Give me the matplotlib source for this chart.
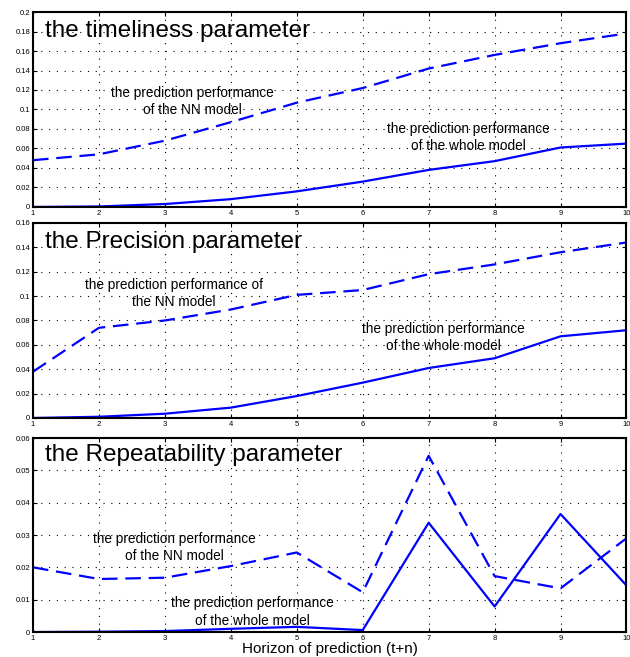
import matplotlib
matplotlib.use("Agg")
import matplotlib.pyplot as plt
from matplotlib.ticker import FuncFormatter

horizon = [1, 2, 3, 4, 5, 6, 7, 8, 9, 10]

# timeliness parameter
time_nn = [0.048, 0.054, 0.068, 0.087, 0.107, 0.122, 0.142, 0.156, 0.168, 0.178]
time_whole = [0.0, 0.0005, 0.003, 0.008, 0.016, 0.026, 0.038, 0.047, 0.061, 0.065]

# Precision parameter
prec_nn = [0.038, 0.074, 0.080, 0.089, 0.101, 0.105, 0.118, 0.126, 0.136, 0.144]
prec_whole = [0.0, 0.001, 0.0035, 0.0085, 0.018, 0.029, 0.041, 0.049, 0.067, 0.072]

# Repeatability parameter
rep_nn = [0.020, 0.0164, 0.0168, 0.0204, 0.0246, 0.0123, 0.0545, 0.0173, 0.0135, 0.029]
rep_whole = [0.0, 0.0001, 0.0003, 0.001, 0.0016, 0.0006, 0.0338, 0.0079, 0.0365, 0.0144]

titles = ["the timeliness parameter", "the Precision parameter",
          "the Repeatability parameter"]
nn_notes = ["the prediction performance\nof the NN model",
            "the prediction performance of\nthe NN model",
            "the prediction performance\nof the NN model"]
whole_note = "the prediction performance\nof the whole model"

plt.rcParams['font.family'] = ['Liberation Sans', 'DejaVu Sans']

fig = plt.figure(figsize=(6.3, 6.57), dpi=100)

boxes = [[0.0524, 0.685, 0.942, 0.2967],
         [0.0524, 0.3638, 0.942, 0.2968],
         [0.0524, 0.038, 0.942, 0.2953]]
ylims = [0.2, 0.16, 0.06]
ysteps = [0.02, 0.02, 0.01]
series = [(time_nn, time_whole), (prec_nn, prec_whole), (rep_nn, rep_whole)]
nn_pos = [(3.41, 0.108), (3.14, 0.102), (3.14, 0.0262)]
whole_pos = [(7.6, 0.071), (7.23, 0.066), (4.32, 0.0062)]
title_y = [0.905, 0.905, 0.91]

fmt = FuncFormatter(lambda v, p: ("%.2f" % v).rstrip('0').rstrip('.') if v != 0 else "0")

for i in range(3):
    ax = fig.add_axes(boxes[i])
    nn, whole = series[i]
    ax.plot(horizon, nn, color='#0000ff', lw=1.6, dashes=(7, 3.5))
    ax.plot(horizon, whole, color='#0000ff', lw=1.6)
    ax.set_xlim(1, 10)
    ax.set_ylim(0, ylims[i])
    n = int(round(ylims[i] / ysteps[i]))
    ax.set_yticks([k * ysteps[i] for k in range(n + 1)])
    ax.set_xticks(horizon)
    ax.yaxis.set_major_formatter(fmt)
    ax.tick_params(direction='in', top=True, right=True, labelsize=5.5,
                   length=3, width=0.8, pad=2)
    ax.grid(True, color='black', linestyle=(0, (1, 6)), linewidth=0.8)
    for s in ax.spines.values():
        s.set_linewidth(1.5)
    ax.text(0.02, title_y[i], titles[i], transform=ax.transAxes, fontsize=17.5,
            ha='left', va='center')
    ax.text(nn_pos[i][0], nn_pos[i][1], nn_notes[i], fontsize=9.8,
            ha='center', va='center', linespacing=1.3)
    ax.text(whole_pos[i][0], whole_pos[i][1], whole_note, fontsize=9.8,
            ha='center', va='center', linespacing=1.3)
    if i == 2:
        ax.set_xlabel("Horizon of prediction (t+n)", fontsize=11, labelpad=0)

plt.savefig("out.png", dpi=100)
